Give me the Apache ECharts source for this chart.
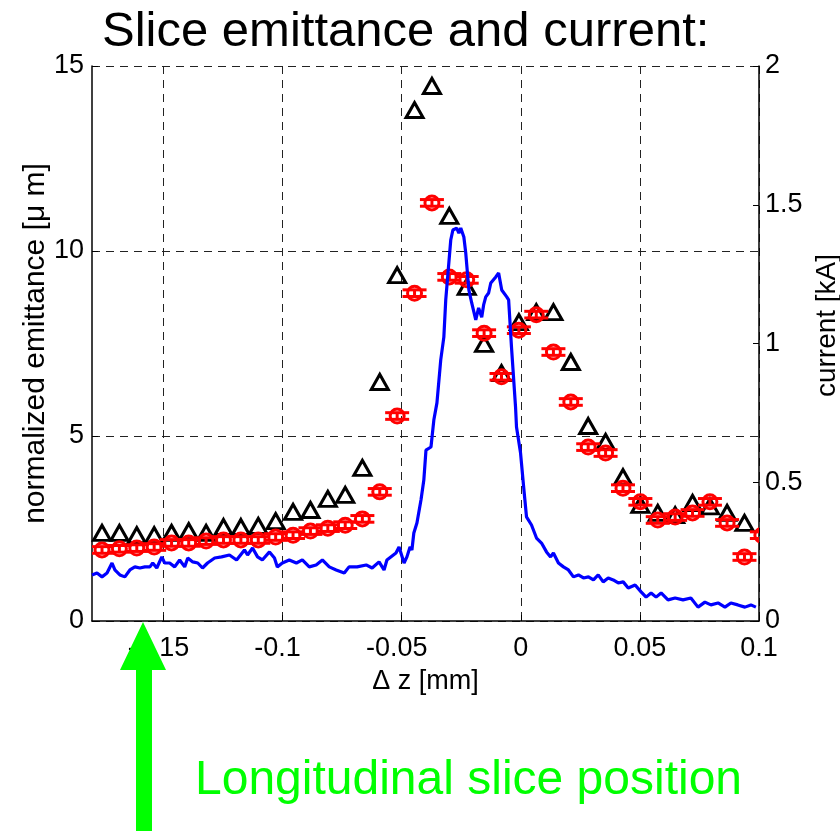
<!DOCTYPE html>
<html>
<head>
<meta charset="utf-8">
<script src="https://cdn.jsdelivr.net/npm/echarts@6/dist/echarts.min.js"></script>
<style>
html,body{margin:0;padding:0;background:#fff;overflow:hidden;}
#chart{width:840px;height:834px;}
</style>
</head>
<body>
<div id="chart"></div>
<script>
// ---- data ----
const sliceZ = [-0.1758,-0.1685,-0.1612,-0.1539,-0.1466,-0.1394,-0.1321,-0.1248,-0.1175,-0.1102,
  -0.1029,-0.0956,-0.0883,-0.0810,-0.0737,-0.0665,-0.0592,-0.0519,-0.0446,-0.0373,
  -0.0300,-0.0227,-0.0154,-0.0081,-0.0008,0.0065,0.0137,0.0210,0.0283,0.0356,
  0.0429,0.0502,0.0575,0.0648,0.0721,0.0794,0.0866,0.0939,0.1012];
const emitBlack = [2.38,2.38,2.32,2.32,2.38,2.43,2.38,2.54,2.54,2.57,2.70,2.95,3.00,3.30,3.41,4.14,
  6.46,9.35,13.81,14.46,10.95,9.03,7.49,6.70,8.08,8.35,8.35,7.00,5.27,4.84,3.89,3.14,2.92,2.86,
  3.19,3.10,2.92,2.65];
const emitRed = [1.92,1.95,1.97,2.00,2.11,2.11,2.16,2.19,2.19,2.19,2.27,2.32,2.43,2.51,2.59,2.76,
  3.49,5.54,8.86,11.30,9.30,9.22,7.78,6.60,7.86,8.28,7.27,5.92,4.70,4.54,3.59,3.22,2.73,2.81,
  2.92,3.22,2.65,1.73,2.32];
const emitRedErr = [0.09,0.09,0.09,0.09,0.09,0.09,0.09,0.09,0.09,0.09,0.09,0.09,0.09,0.09,0.09,0.09,
  0.09,0.09,0.09,0.09,0.09,0.09,0.09,0.09,0.09,0.09,0.09,0.09,0.09,0.09,0.09,0.09,0.09,0.09,
  0.09,0.09,0.09,0.09,0.09];
const currentZ = [-0.1800,-0.1779,-0.1758,-0.1737,-0.1716,-0.1704,-0.1683,-0.1662,-0.1641,-0.1620,
  -0.1599,-0.1578,-0.1557,-0.1545,-0.1528,-0.1507,-0.1495,-0.1474,-0.1453,-0.1432,
  -0.1411,-0.1398,-0.1377,-0.1356,-0.1336,-0.1315,-0.1285,-0.1256,-0.1223,-0.1193,
  -0.1160,-0.1147,-0.1126,-0.1105,-0.1085,-0.1055,-0.1034,-0.1022,-0.1001,-0.0972,
  -0.0942,-0.0917,-0.0888,-0.0859,-0.0833,-0.0804,-0.0775,-0.0741,-0.0721,-0.0687,
  -0.0649,-0.0624,-0.0595,-0.0574,-0.0562,-0.0524,-0.0511,-0.0490,-0.0478,-0.0465,
  -0.0457,-0.0449,-0.0436,-0.0419,-0.0407,-0.0398,-0.0377,-0.0365,-0.0352,-0.0336,
  -0.0323,-0.0315,-0.0294,-0.0285,-0.0269,-0.0260,-0.0252,-0.0239,-0.0231,-0.0218,
  -0.0206,-0.0189,-0.0177,-0.0164,-0.0156,-0.0147,-0.0135,-0.0126,-0.0105,-0.0093,
  -0.0080,-0.0059,-0.0051,-0.0039,-0.0022,-0.0018,-0.0001,0.0012,0.0024,0.0045,
  0.0066,0.0087,0.0108,0.0125,0.0137,0.0158,0.0179,0.0200,0.0221,0.0242,
  0.0263,0.0284,0.0305,0.0325,0.0346,0.0367,0.0388,0.0409,0.0430,0.0451,
  0.0480,0.0505,0.0526,0.0547,0.0568,0.0589,0.0618,0.0648,0.0681,0.0714,
  0.0744,0.0773,0.0798,0.0828,0.0857,0.0882,0.0911,0.0941,0.0966,0.0987];
const currentKA = [0.166,0.173,0.159,0.173,0.209,0.184,0.166,0.159,0.184,0.195,
  0.191,0.195,0.195,0.209,0.191,0.231,0.209,0.209,0.195,0.220,
  0.195,0.227,0.213,0.209,0.191,0.209,0.227,0.231,0.238,0.220,
  0.256,0.238,0.263,0.231,0.220,0.249,0.227,0.195,0.209,0.220,
  0.209,0.220,0.195,0.202,0.220,0.195,0.184,0.173,0.195,0.195,
  0.202,0.191,0.213,0.184,0.220,0.245,0.267,0.209,0.231,0.267,
  0.256,0.317,0.353,0.436,0.508,0.616,0.627,0.724,0.786,0.941,
  1.023,1.157,1.373,1.409,1.416,1.398,1.416,1.384,1.326,1.193,
  1.146,1.085,1.128,1.095,1.139,1.168,1.182,1.218,1.240,1.254,
  1.193,1.168,1.157,0.987,0.771,0.699,0.605,0.483,0.375,0.346,
  0.299,0.281,0.249,0.231,0.245,0.209,0.195,0.184,0.159,0.166,
  0.155,0.159,0.148,0.166,0.141,0.155,0.148,0.137,0.141,0.119,
  0.130,0.105,0.086,0.101,0.086,0.101,0.076,0.083,0.076,0.083,
  0.050,0.068,0.058,0.065,0.050,0.065,0.058,0.050,0.058,0.050];
const xTicks = [-0.15,-0.1,-0.05,0,0.05,0.1];
const titleText = 'Slice emittance and current:';
const noteText = 'Longitudinal slice position';

// ---- build chart ----
const FONT = '"Liberation Sans", Arial, Helvetica, sans-serif';
const chart = echarts.init(document.getElementById('chart'), null, {renderer:'canvas'});
const blackData = emitBlack.map((v,i)=>[sliceZ[i], v]);
const redData = emitRed.map((v,i)=>[sliceZ[i], v, emitRedErr[i]]);
const curData = currentKA.map((v,i)=>[currentZ[i], v]);
const gridDash = {type:[8,6], color:'#222', width:1};

chart.setOption({
  animation:false,
  backgroundColor:'#fff',
  title:{text:titleText, left:97, top:3,
    textStyle:{fontFamily:FONT, fontSize:49, fontWeight:'normal', color:'#000'}},
  grid:{left:92, right:81, top:66, bottom:213, containLabel:false, outerBoundsMode:'none'},
  xAxis:{type:'value', min:-0.18, max:0.1,
    name:'\u0394 z [mm]', nameLocation:'middle', nameGap:47, nameMoveOverlap:false,
    nameTextStyle:{fontFamily:FONT, fontSize:27, color:'#000'},
    axisLine:{show:true, onZero:false, lineStyle:{color:'#000', width:1.5}},
    axisTick:{show:true, inside:true, length:6, customValues:xTicks, lineStyle:{color:'#000'}},
    axisLabel:{customValues:xTicks, fontFamily:FONT, fontSize:27, color:'#000', margin:14,
      formatter:(v)=> v < 0 ? '{neg|' + String(v) + '}' : String(v),
      rich:{neg:{fontFamily:FONT, fontSize:27, color:'#000', padding:[0,10,0,0]}}},
    splitLine:{show:true, lineStyle:gridDash}},
  yAxis:[
    {type:'value', position:'left', min:0, max:15, interval:5,
      name:'normalized emittance [\u03bc m]', nameLocation:'middle', nameGap:41, nameRotate:90,
      nameMoveOverlap:false,
      nameTextStyle:{fontFamily:FONT, fontSize:30, color:'#000'},
      axisLine:{show:true, onZero:false, lineStyle:{color:'#000', width:1.5}},
      axisTick:{show:true, inside:true, length:6, lineStyle:{color:'#000'}},
      axisLabel:{fontFamily:FONT, fontSize:27, color:'#000', margin:8},
      splitLine:{show:true, lineStyle:gridDash}},
    {type:'value', position:'right', min:0, max:2, interval:0.5,
      name:'current [kA]', nameLocation:'middle', nameGap:50, nameRotate:90,
      nameTextStyle:{fontFamily:FONT, fontSize:28, color:'#000', padding:[0,0,0,36]},
      axisLine:{show:true, onZero:false, lineStyle:{color:'#000', width:1.5}},
      axisTick:{show:true, inside:true, length:6, lineStyle:{color:'#000'}},
      axisLabel:{fontFamily:FONT, fontSize:27, color:'#000', margin:6},
      splitLine:{show:false}}
  ],
  series:[
    {type:'scatter', name:'emit black', xAxisIndex:0, yAxisIndex:0, data:blackData,
      symbol:'triangle', symbolSize:[17,15], z:3,
      itemStyle:{color:'rgba(0,0,0,0)', borderColor:'#000', borderWidth:3, opacity:1}},
    {type:'custom', name:'emit red', xAxisIndex:0, yAxisIndex:0, data:redData, clip:true, z:4,
      renderItem:function(params, api){
        const x = api.value(0), y = api.value(1), e = api.value(2);
        const c = api.coord([x, y]);
        const t = api.coord([x, y + e]);
        const b = api.coord([x, y - e]);
        const hw = 12;
        const st = {stroke:'#ff0000', lineWidth:3, fill:null};
        return {type:'group', children:[
          {type:'line', shape:{x1:c[0], y1:t[1], x2:c[0], y2:b[1]}, style:st},
          {type:'line', shape:{x1:c[0]-hw, y1:t[1], x2:c[0]+hw, y2:t[1]}, style:st},
          {type:'line', shape:{x1:c[0]-hw, y1:b[1], x2:c[0]+hw, y2:b[1]}, style:st},
          {type:'circle', shape:{cx:c[0], cy:c[1], r:7}, style:{stroke:'#ff0000', lineWidth:3, fill:'rgba(0,0,0,0)'}}
        ]};
      }},
    {type:'line', name:'current', xAxisIndex:0, yAxisIndex:1, data:curData, z:5,
      showSymbol:false, symbol:'none', lineStyle:{color:'#0000ff', width:3.2}}
  ],
  graphic:[
    {type:'polygon', z:100,
      shape:{points:[[143,622],[166,670],[152,670],[152,831],[136,831],[136,670],[120,670]]},
      style:{fill:'#00ff00'}},
    {type:'text', z:100, x:195, y:781,
      style:{text:noteText, fill:'#00ff00', font:'48px ' + FONT, textVerticalAlign:'middle', textAlign:'left'}}
  ]
});
</script>
</body>
</html>
